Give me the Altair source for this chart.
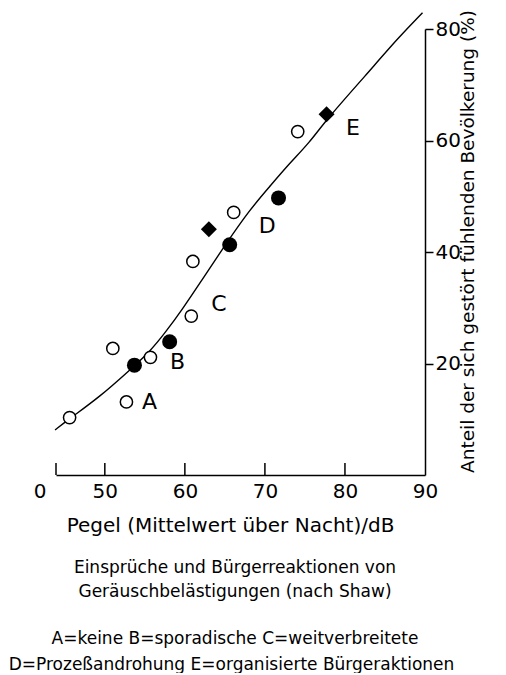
import altair as alt
import pandas as pd

# --- data ---
open_x = [45.6, 52.7, 51.0, 55.7, 60.8, 61.0, 66.1, 74.1]
open_y = [10.3, 13.1, 22.7, 21.1, 28.5, 38.3, 47.1, 61.6]
filled_x = [53.7, 58.1, 65.6, 71.7]
filled_y = [19.7, 23.9, 41.3, 49.7]
diamond_x = [63.0, 77.7]
diamond_y = [44.1, 64.7]
curve_x = [43.78, 45.65, 49.38, 53.12, 55.62, 57.49, 59.77, 61.85, 65.18,
           68.08, 70.58, 73.07, 75.56, 77.64, 82.63, 86.78, 89.69]
curve_y = [8.07, 10.17, 14.04, 18.83, 22.12, 25.42, 29.9, 34.39, 41.56,
           47.53, 51.71, 55.9, 59.6, 63.68, 71.75, 78.62, 82.92]
letters = ["A", "B", "C", "D", "E"]
letter_x = [55.6, 59.1, 64.25, 70.3, 81.0]
letter_y = [13.1, 20.3, 30.6, 44.7, 62.2]
x_tick_vals = [43.9, 50, 60, 70, 80]
x_label_vals = [50, 60, 70, 80, 90]
y_label_vals = [20, 40, 60, 80]
zero_label = ["0"]
zero_x = [41.9]
caption = ["Einsprüche und Bürgerreaktionen von", "Geräuschbelästigungen (nach Shaw)"]
legend_lines = ["A=keine B=sporadische C=weitverbreitete",
                "D=Prozeßandrohung E=organisierte Bürgeraktionen"]

FONT = "DejaVu Sans"
W, H = 369, 446

xs = alt.Scale(domain=[43.9, 90], nice=False, zero=False)
ys = alt.Scale(domain=[0, 80], nice=False, zero=False)

x_axis = alt.Axis(values=x_label_vals, ticks=False, grid=False, domain=True,
                  domainColor="black", domainWidth=1.5, labelFont=FONT,
                  labelFontSize=20, labelColor="black", labelPadding=6,
                  labelFlush=False, labelOverlap=False,
                  title="Pegel (Mittelwert über Nacht)/dB", titleFont=FONT,
                  titleFontSize=20, titleFontWeight="normal", titleColor="black",
                  titlePadding=14, titleX=174)
y_axis = alt.Axis(orient="right", values=y_label_vals, grid=False, domain=True,
                  domainColor="black", domainWidth=1.5, ticks=True, tickSize=8,
                  tickColor="black", tickWidth=1.5, labelFont=FONT,
                  labelFontSize=20, labelColor="black", labelPadding=2,
                  title="Anteil der sich gestört fühlenden Bevölkerung (%)",
                  titleFont=FONT, titleFontSize=18.5, titleFontWeight="normal",
                  titleColor="black", titleAngle=270, titlePadding=17,
                  titleY=212)


def X(field="x"):
    return alt.X(f"{field}:Q", scale=xs, axis=x_axis)


def Y(field="y"):
    return alt.Y(f"{field}:Q", scale=ys, axis=y_axis)


curve_df = pd.DataFrame({"x": curve_x, "y": curve_y})
open_df = pd.DataFrame({"x": open_x, "y": open_y})
filled_df = pd.DataFrame({"x": filled_x, "y": filled_y})
diamond_df = pd.DataFrame({"x": diamond_x, "y": diamond_y})
letter_df = pd.DataFrame({"x": letter_x, "y": letter_y, "t": letters})
tick_df = pd.DataFrame({"x": x_tick_vals})
zero_df = pd.DataFrame({"x": zero_x, "t": zero_label})

curve = alt.Chart(curve_df).mark_line(color="black", strokeWidth=1.4,
                                      interpolate="basis").encode(x=X(), y=Y())
opens = alt.Chart(open_df).mark_point(shape="circle", size=150, filled=True,
                                      fill="white", stroke="black", strokeWidth=1.5,
                                      opacity=1).encode(x=X(), y=Y())
filled = alt.Chart(filled_df).mark_point(shape="circle", size=225, filled=True,
                                         color="black", opacity=1).encode(x=X(), y=Y())
diamonds = alt.Chart(diamond_df).mark_point(shape="diamond", size=256, filled=True,
                                            color="black", opacity=1).encode(x=X(), y=Y())
letter_marks = alt.Chart(letter_df).mark_text(font=FONT, fontSize=22, color="black",
                                              align="center", baseline="middle").encode(
    x=X(), y=Y(), text="t:N")
ticks = alt.Chart(tick_df).mark_rule(color="black", strokeWidth=1.5).encode(
    x=X(), y=alt.value(H), y2=alt.value(H - 12))
zero = alt.Chart(zero_df).mark_text(font=FONT, fontSize=20, color="black",
                                    align="center", baseline="middle").encode(
    x=X(), y=alt.value(H + 17), text="t:N")


def note(line, px, py, size):
    return alt.Chart(pd.DataFrame({"t": [line]})).mark_text(
        font=FONT, fontSize=size, color="black", align="center",
        baseline="middle").encode(x=alt.value(px), y=alt.value(py), text="t:N")


notes = [
    note(caption[0], 179, 539, 17),
    note(caption[1], 179, 563, 17),
    note(legend_lines[0], 179, 610, 17),
    note(legend_lines[1], 175.5, 636, 17),
]

chart = alt.layer(curve, ticks, opens, filled, diamonds, letter_marks, zero, *notes).properties(
    width=W, height=H,
    padding={"left": 48, "top": 21, "right": 73, "bottom": 198},
    autosize=alt.AutoSizeParams(type="none"),
    background="white",
).configure_view(stroke=None, strokeWidth=0)

chart.save("out.html", embed_options={"renderer": "svg", "actions": False})
